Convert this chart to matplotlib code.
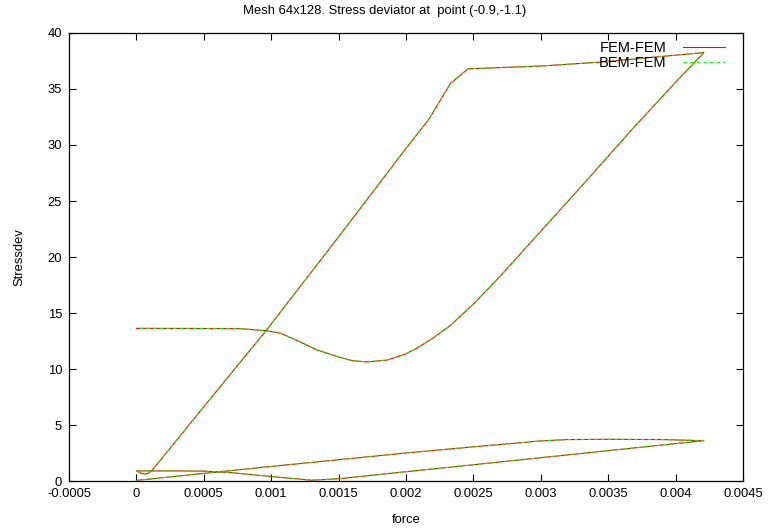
import matplotlib
matplotlib.use("Agg")
import matplotlib.pyplot as plt

plt.rcParams['font.family'] = ['Liberation Sans', 'DejaVu Sans']

title = "Mesh 64x128. Stress deviator at  point (-0.9,-1.1)"
xlabel = "force"
ylabel = "Stressdev"
series_names = ["FEM-FEM", "BEM-FEM"]

# Path of the loading history (force, stress deviator)
force = [
    # loading 1
    0.0, 0.0005, 0.001, 0.0015, 0.002, 0.0025, 0.003, 0.0032, 0.0035, 0.0039, 0.00421,
    # unloading 1
    0.0035, 0.003, 0.0025, 0.002, 0.0015, 0.0013, 0.001, 0.0007, 0.0005, 0.0003, 0.0,
    # loading 2
    0.00003, 0.00006, 0.00009, 0.000113, 0.0003, 0.00042, 0.00096, 0.0015, 0.002,
    0.00217, 0.00233, 0.00246, 0.003, 0.00344, 0.0038, 0.00421,
    # unloading 2
    0.004, 0.0037, 0.0035, 0.0033, 0.003, 0.0027, 0.0025, 0.00233, 0.0022, 0.00208,
    0.002, 0.0019, 0.00186, 0.00171, 0.0016, 0.00151, 0.00134, 0.0012, 0.00107,
    0.00096, 0.00077, 0.0004, 0.0,
]
stress = [
    0.05, 0.68, 1.3, 1.9, 2.5, 3.05, 3.58, 3.7, 3.72, 3.7, 3.6,
    2.71, 2.08, 1.45, 0.83, 0.2, 0.07, 0.4, 0.75, 0.88, 0.9, 0.9,
    0.72, 0.62, 0.7, 0.9, 3.66, 5.45, 13.4, 21.8, 29.7,
    32.3, 35.5, 36.8, 37.05, 37.4, 37.8, 38.25,
    35.6, 31.7, 29.0, 26.3, 22.3, 18.3, 15.8, 13.9, 12.75, 11.85,
    11.35, 10.95, 10.8, 10.63, 10.75, 11.04, 11.7, 12.5, 13.19,
    13.42, 13.6, 13.62, 13.63,
]
stress_bem = list(stress)

xticks = [-0.0005, 0, 0.0005, 0.001, 0.0015, 0.002, 0.0025, 0.003, 0.0035, 0.004, 0.0045]
xticklabels = ["-0.0005", "0", "0.0005", "0.001", "0.0015", "0.002", "0.0025",
               "0.003", "0.0035", "0.004", "0.0045"]
yticks = [0, 5, 10, 15, 20, 25, 30, 35, 40]

fs = 9.4
fig = plt.figure(figsize=(7.69, 5.28), dpi=100)
ax = fig.add_axes([69/769, 47/528, 674/769, 448/528])

ax.plot(force, stress, color="#ff0000", lw=0.8, label=series_names[0])
ax.plot(force, stress_bem, color="#00ff00", lw=0.8, dashes=(3, 3), label=series_names[1])

ax.set_xlim(-0.0005, 0.0045)
ax.set_ylim(0, 40)
ax.set_xticks(xticks)
ax.set_xticklabels(xticklabels)
ax.set_yticks(yticks)
ax.tick_params(direction="in", length=5, width=0.8, top=True, right=True,
               labelsize=fs, pad=5)
for s in ax.spines.values():
    s.set_linewidth(0.9)

fig.text(0.5, 1 - 11/528, title, fontsize=fs, ha="center", va="center")
ax.set_xlabel(xlabel, fontsize=fs, labelpad=10)
ax.set_ylabel(ylabel, fontsize=fs, labelpad=16)

ax.legend(loc="upper right", bbox_to_anchor=(1 - 8/674, 1.005), frameon=False,
          markerfirst=False, fontsize=10.5, handlelength=2.9, borderaxespad=0.3,
          labelspacing=0.05, handletextpad=1.1)

fig.savefig("out.png", dpi=100)
